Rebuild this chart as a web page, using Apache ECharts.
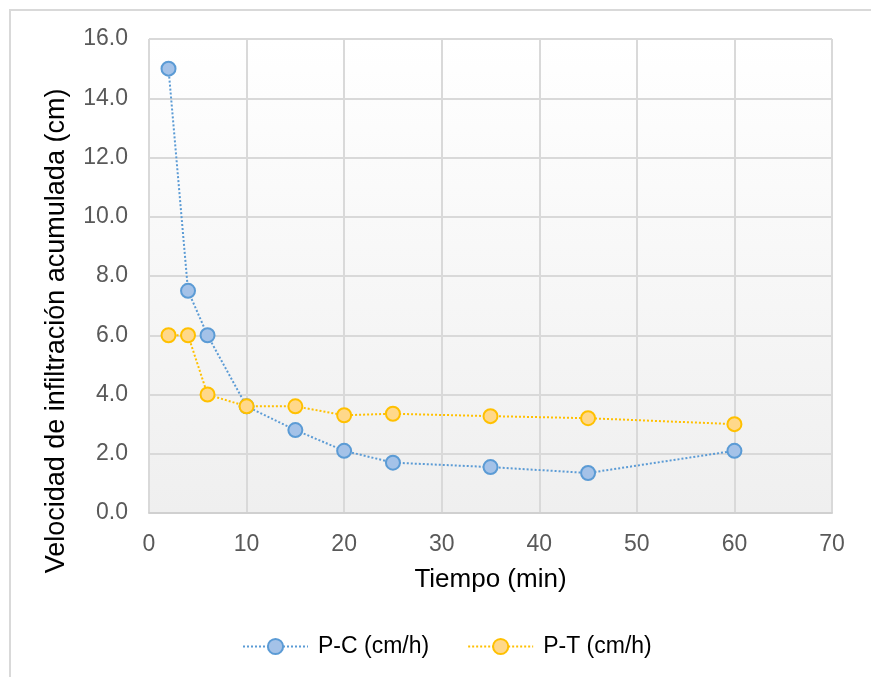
<!DOCTYPE html>
<html>
<head>
<meta charset="utf-8">
<script src="https://cdn.jsdelivr.net/npm/echarts@6/dist/echarts.min.js"></script>
<style>
  html, body { margin: 0; padding: 0; background: #ffffff; }
  #chart { width: 871px; height: 677px; }
</style>
</head>
<body>
<div id="chart"></div>
<script>
// Infiltration test: time (min) against rate for the two plots
const tiempos = [2, 4, 6, 10, 15, 20, 25, 35, 45, 60];
const valoresPC = [15.0, 7.5, 6.0, 3.6, 2.8, 2.1, 1.7, 1.55, 1.35, 2.1];
const valoresPT = [6.0, 6.0, 4.0, 3.6, 3.6, 3.3, 3.35, 3.27, 3.2, 3.0];
const nombresSeries = ['P-C (cm/h)', 'P-T (cm/h)'];
const tituloX = 'Tiempo (min)';
const tituloY = 'Velocidad de infiltración acumulada (cm)';

const pares = (xs, ys) => xs.map((x, i) => [x, ys[i]]);
const FONT = '"Liberation Sans", Arial, sans-serif';

const chart = echarts.init(document.getElementById('chart'), null, { renderer: 'canvas' });

function serie(name, data, lineColor, fill) {
  return {
    name: name,
    type: 'line',
    data: data,
    symbol: 'circle',
    symbolSize: 14,
    showSymbol: true,
    lineStyle: { color: lineColor, width: 2, type: 'dotted' },
    itemStyle: { color: fill, borderColor: lineColor, borderWidth: 2 },
    emphasis: { disabled: true },
    animation: false,
    z: 3
  };
}

chart.setOption({
  animation: false,
  textStyle: { fontFamily: FONT },
  grid: {
    left: 149, top: 39, right: 39, bottom: 164,
    show: true,
    borderWidth: 0,
    backgroundColor: new echarts.graphic.LinearGradient(0, 0, 0, 1, [
      { offset: 0, color: '#ffffff' },
      { offset: 1, color: '#efefef' }
    ])
  },
  graphic: [
    {
      type: 'rect',
      shape: { x: 10, y: 10, width: 900, height: 700 },
      style: { fill: 'none', stroke: '#d9d9d9', lineWidth: 2 },
      silent: true, z: -1
    },
    {
      type: 'text',
      x: 57, y: 331,
      rotation: Math.PI / 2,
      style: {
        text: tituloY,
        font: '27px ' + FONT,
        fill: '#000000',
        align: 'center',
        verticalAlign: 'middle'
      },
      silent: true
    }
  ],
  legend: {
    left: 237,
    top: 630,
    itemWidth: 65,
    itemHeight: 19,
    itemGap: 38,
    textStyle: { fontSize: 23, color: '#000000', fontFamily: FONT, padding: [0, 0, 0, 5] },
    data: nombresSeries
  },
  xAxis: {
    type: 'value',
    min: 0, max: 70, interval: 10,
    name: tituloX,
    nameLocation: 'middle',
    nameGap: 54,
    nameTextStyle: { fontSize: 26, color: '#000000', fontFamily: FONT },
    axisLine: { show: true, lineStyle: { color: '#d0d0d0', width: 2 } },
    axisTick: { show: false },
    axisLabel: { fontSize: 23, color: '#595959', margin: 20, fontFamily: FONT },
    splitLine: { show: true, lineStyle: { color: '#d9d9d9', width: 2 } }
  },
  yAxis: {
    type: 'value',
    min: 0, max: 16, interval: 2,
    axisLine: { show: false },
    axisTick: { show: false },
    axisLabel: {
      fontSize: 23, color: '#595959', margin: 21, fontFamily: FONT,
      formatter: v => v.toFixed(1)
    },
    splitLine: { show: true, lineStyle: { color: '#d9d9d9', width: 2 } }
  },
  series: [
    serie(nombresSeries[0], pares(tiempos, valoresPC), '#5b9bd5', '#a4c2e8'),
    serie(nombresSeries[1], pares(tiempos, valoresPT), '#ffc000', '#ffd88a')
  ]
});
</script>
</body>
</html>
